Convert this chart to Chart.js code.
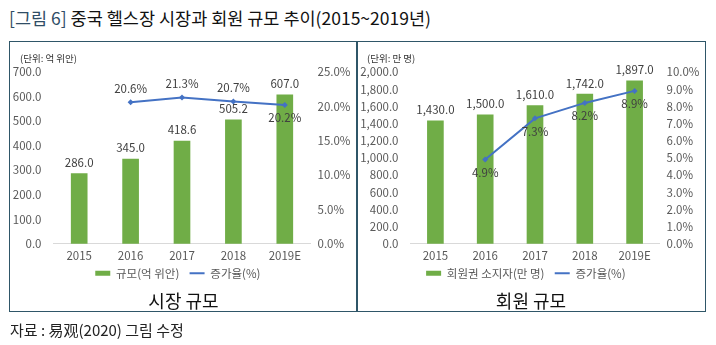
<!DOCTYPE html>
<html>
<head>
<meta charset="utf-8">
<script src="https://cdn.jsdelivr.net/npm/chart.js@4.4.1/dist/chart.umd.min.js"></script>
<style>
body { margin: 0; background: #fff; font-family: "Noto Sans CJK KR", "Noto Sans", sans-serif; }
#page { position: relative; width: 716px; height: 345px; overflow: hidden; }
#title { position: absolute; left: 9px; top: 5px; font-size: 17.5px; color: #111; white-space: nowrap; }
#title .tag { color: #2f4d66; }
.box { position: absolute; top: 41px; height: 271px; border: 1.5px solid #2f5668; box-sizing: border-box; }
#boxL { left: 9px; width: 349px; }
#boxR { left: 356px; width: 350px; }
.unit { position: absolute; top: 9px; left: 10px; font-size: 9.5px; color: #333; }
.sub { position: absolute; top: 245px; left: 0; width: 100%; text-align: center; font-size: 18px; color: #111; }
.wrap { position: absolute; top: 0; left: 0; }
#source { position: absolute; left: 10px; top: 319px; font-size: 15px; color: #222; white-space: nowrap; }
</style>
</head>
<body>
<div id="page">
  <div id="title"><span class="tag">[그림 6]</span> 중국 헬스장 시장과 회원 규모 추이(2015~2019년)</div>
  <div class="box" id="boxL">
    <div class="wrap" style="width:346px;height:247px"><canvas id="market"></canvas></div>
    <div class="unit">(단위: 억 위안)</div>
    <div class="sub">시장 규모</div>
  </div>
  <div class="box" id="boxR">
    <div class="wrap" style="width:348px;height:247px"><canvas id="member"></canvas></div>
    <div class="unit">(단위: 만 명)</div>
    <div class="sub">회원 규모</div>
  </div>
  <div id="source">자료 : 易观(2020) 그림 수정</div>
</div>
<script>
const years = ['2015', '2016', '2017', '2018', '2019E'];
const marketSize = [286.0, 345.0, 418.6, 505.2, 607.0];
const marketGrowth = [null, 20.6, 21.3, 20.7, 20.2];
const memberCount = [1430.0, 1500.0, 1610.0, 1742.0, 1897.0];
const memberGrowth = [null, 4.9, 7.3, 8.2, 8.9];

const green = '#70ad47';
const blue = '#4472c4';
const tickColor = '#595959';
const FONT = '"Noto Sans CJK KR", "Noto Sans", sans-serif';
const FS = 11.5;

function num(v) {
    return v.toLocaleString('en-US', { minimumFractionDigits: 1, maximumFractionDigits: 1 });
}

// draws value labels next to bars and line points
const valueLabels = {
    id: 'valueLabels',
    afterDatasetsDraw(chart) {
        const ctx = chart.ctx;
        ctx.save();
        ctx.font = FS + 'px ' + FONT;
        ctx.fillStyle = '#404040';
        ctx.textAlign = 'center';
        ctx.textBaseline = 'middle';
        chart.data.datasets.forEach((ds, i) => {
            const meta = chart.getDatasetMeta(i);
            meta.data.forEach((el, j) => {
                const v = ds.data[j];
                if (v === null) return;
                let dy;
                if (ds.type === 'bar') {
                    dy = -11;
                } else {
                    dy = ds.labelPos[j] === 'above' ? -14 : 13;
                }
                const txt = ds.type === 'bar' ? num(v) : v.toFixed(1) + '%';
                ctx.fillText(txt, el.x, el.y + dy);
            });
        });
        ctx.restore();
    }
};

function makeChart(id, barName, bars, line, linePos, yMax, yStep, y2Max, y2Step, leftW, rightW) {
    return new Chart(document.getElementById(id), {
        data: {
            labels: years,
            datasets: [
                {
                    type: 'line', label: '증가율(%)', data: line, yAxisID: 'y2',
                    borderColor: blue, backgroundColor: blue, borderWidth: 2,
                    pointStyle: 'rectRot', pointRadius: 3, pointBorderWidth: 0,
                    labelPos: linePos, order: 0
                },
                {
                    type: 'bar', label: barName, data: bars, yAxisID: 'y',
                    backgroundColor: green, barThickness: 16, order: 1
                }
            ]
        },
        options: {
            responsive: true,
            maintainAspectRatio: false,
            animation: false,
            layout: { padding: { top: 30, left: 0, right: 0, bottom: 0 } },
            plugins: {
                tooltip: { enabled: false },
                legend: {
                    position: 'bottom',
                    reverse: true,
                    labels: {
                        color: tickColor,
                        font: { family: FONT, size: FS },
                        usePointStyle: true,
                        pointStyleWidth: 15,
                        boxHeight: 5,
                        padding: 0,
                        generateLabels(chart) {
                            return chart.data.datasets.map((ds, i) => ({
                                text: ds.label + '    ',
                                fillStyle: ds.type === 'bar' ? green : blue,
                                strokeStyle: ds.type === 'bar' ? green : blue,
                                lineWidth: ds.type === 'bar' ? 0 : 2,
                                pointStyle: ds.type === 'bar' ? 'rect' : 'line',
                                fontColor: tickColor,
                                datasetIndex: i
                            }));
                        }
                    }
                }
            },
            scales: {
                x: {
                    grid: { display: false, drawTicks: false },
                    border: { display: true, color: '#d9d9d9' },
                    ticks: { color: tickColor, font: { family: FONT, size: FS }, padding: 5 }
                },
                y: {
                    position: 'left', min: 0, max: yMax,
                    grid: { display: false, drawTicks: false },
                    border: { display: false },
                    ticks: { stepSize: yStep, autoSkip: false, padding: 12, color: tickColor, font: { family: FONT, size: FS }, callback: v => num(v) },
                    afterFit(s) { s.width = leftW; }
                },
                y2: {
                    position: 'right', min: 0, max: y2Max,
                    grid: { display: false, drawTicks: false },
                    border: { display: false },
                    ticks: { stepSize: y2Step, autoSkip: false, padding: 7, color: tickColor, font: { family: FONT, size: FS }, callback: v => v.toFixed(1) + '%' },
                    afterFit(s) { s.width = rightW; }
                }
            }
        },
        plugins: [valueLabels]
    });
}

makeChart('market', '규모(억 위안)', marketSize, marketGrowth,
    ['above', 'above', 'above', 'above', 'below'], 700, 100, 25, 5, 43.5, 45.5);
makeChart('member', '회원권 소지자(만 명)', memberCount, memberGrowth,
    ['below', 'below', 'below', 'below', 'below'], 2000, 200, 10, 1, 53.5, 45.5);
</script>
</body>
</html>
